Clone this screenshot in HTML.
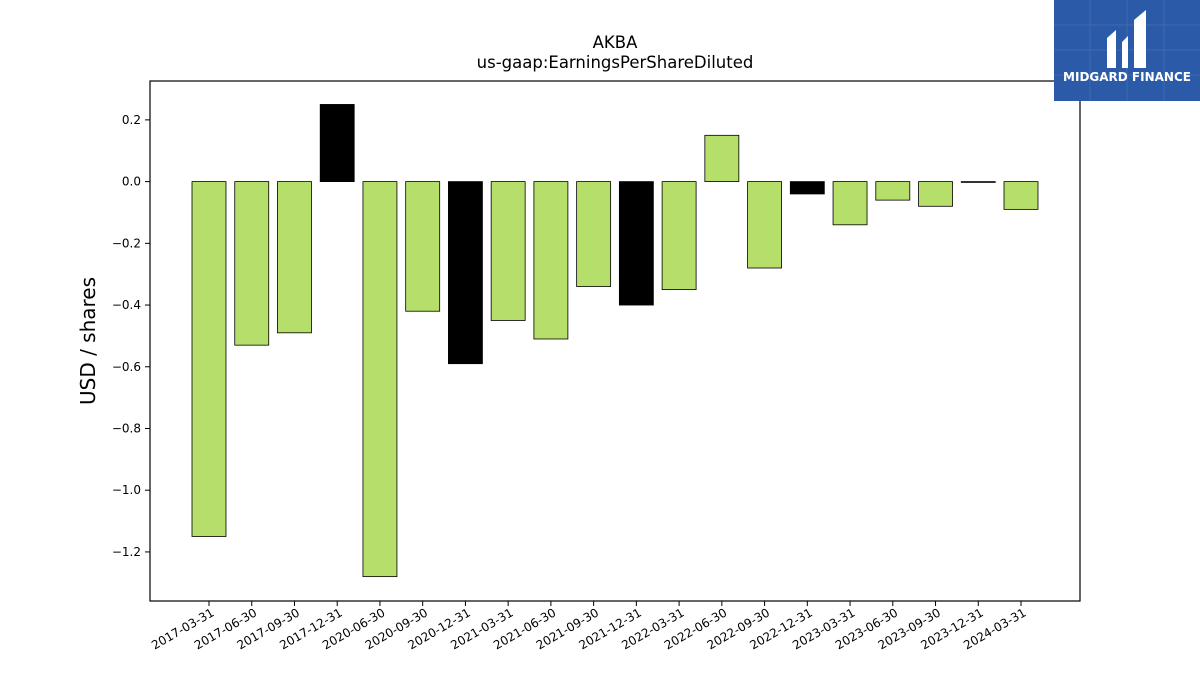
<!DOCTYPE html>
<html><head><meta charset="utf-8"><style>
html,body{margin:0;padding:0;background:#fff;}
svg text{font-family:"DejaVu Sans","Liberation Sans",sans-serif;}
</style></head><body>
<svg id="chart" width="1200" height="675" xmlns="http://www.w3.org/2000/svg">
<rect width="1200" height="675" fill="#fff"/>
<text x="615" y="48" text-anchor="middle" font-size="16.5">AKBA</text>
<text x="615" y="68" text-anchor="middle" font-size="16.5">us-gaap:EarningsPerShareDiluted</text>
<text transform="translate(95,341) rotate(-90)" text-anchor="middle" font-size="20">USD / shares</text>
<g id="plot"></g>
<g>
<rect x="1054" y="0" width="146" height="101" fill="#2b5aa8"/>
<g stroke="#4a74ba" stroke-width="1" opacity="0.6">
<line x1="1054" y1="25" x2="1200" y2="25"/><line x1="1054" y1="50" x2="1200" y2="50"/><line x1="1054" y1="75" x2="1200" y2="75"/>
<line x1="1090" y1="0" x2="1090" y2="101"/><line x1="1127" y1="0" x2="1127" y2="101"/><line x1="1164" y1="0" x2="1164" y2="101"/>
</g>
<path d="M1107 68 L1107 38 L1116 30 L1116 68 Z M1122 68 L1122 42 L1128 36 L1128 68 Z M1134 68 L1134 20 L1146 10 L1146 68 Z" fill="#fff"/>
<text x="1127" y="81" text-anchor="middle" font-size="12" font-weight="bold" fill="#fff">MIDGARD FINANCE</text>
</g>
</svg>
<script>
const categories=["2017-03-31","2017-06-30","2017-09-30","2017-12-31","2020-06-30","2020-09-30","2020-12-31","2021-03-31","2021-06-30","2021-09-30","2021-12-31","2022-03-31","2022-06-30","2022-09-30","2022-12-31","2023-03-31","2023-06-30","2023-09-30","2023-12-31","2024-03-31"];
const values=[-1.15,-0.53,-0.49,0.25,-1.28,-0.42,-0.59,-0.45,-0.51,-0.34,-0.40,-0.35,0.15,-0.28,-0.04,-0.14,-0.06,-0.08,-0.002,-0.09];
const annual=[false,false,false,true,false,false,true,false,false,false,true,false,false,false,true,false,false,false,true,false];
const yTicks=[0.2,0.0,-0.2,-0.4,-0.6,-0.8,-1.0,-1.2];
const NS="http://www.w3.org/2000/svg";
const L=150,R=1080,T=81,B=601,yMax=0.326,yMin=-1.359;
const y=v=>T+(yMax-v)/(yMax-yMin)*(B-T);
const step=(1021-209)/(categories.length-1);
const x=i=>209+i*step;
const bw=34;
const g=document.getElementById('plot');
function mk(t,a){const e=document.createElementNS(NS,t);for(const k in a)e.setAttribute(k,a[k]);g.appendChild(e);return e;}
values.forEach((v,i)=>{
 const r=mk('rect',{x:x(i)-bw/2,y:Math.min(y(v),y(0)),width:bw,height:Math.max(Math.abs(y(v)-y(0)),0.8),fill:annual[i]?'#000':'#b5df6a',stroke:'#000','stroke-width':0.8});
 
 
 const tk=mk('line',{x1:x(i),x2:x(i),y1:B,y2:B+5,stroke:'#000'});
 
 
 const t=mk('text',{x:x(i)+6,y:B+14,'font-size':12,'text-anchor':'end',transform:`rotate(-30 ${x(i)+6} ${B+14})`});
 t.textContent=categories[i];
 
 
});
yTicks.forEach(v=>{
 const tk=mk('line',{x1:L-5,x2:L,y1:y(v),y2:y(v),stroke:'#000'});
 
 
 const t=mk('text',{x:L-9,y:y(v)+4,'font-size':12,'text-anchor':'end'});
 t.textContent=v.toFixed(1).replace('-','\u2212');
 
 
});
const f=mk('rect',{x:L,y:T,width:R-L,height:B-T,fill:'none',stroke:'#000','stroke-width':1.2});


</script>
</body></html>
